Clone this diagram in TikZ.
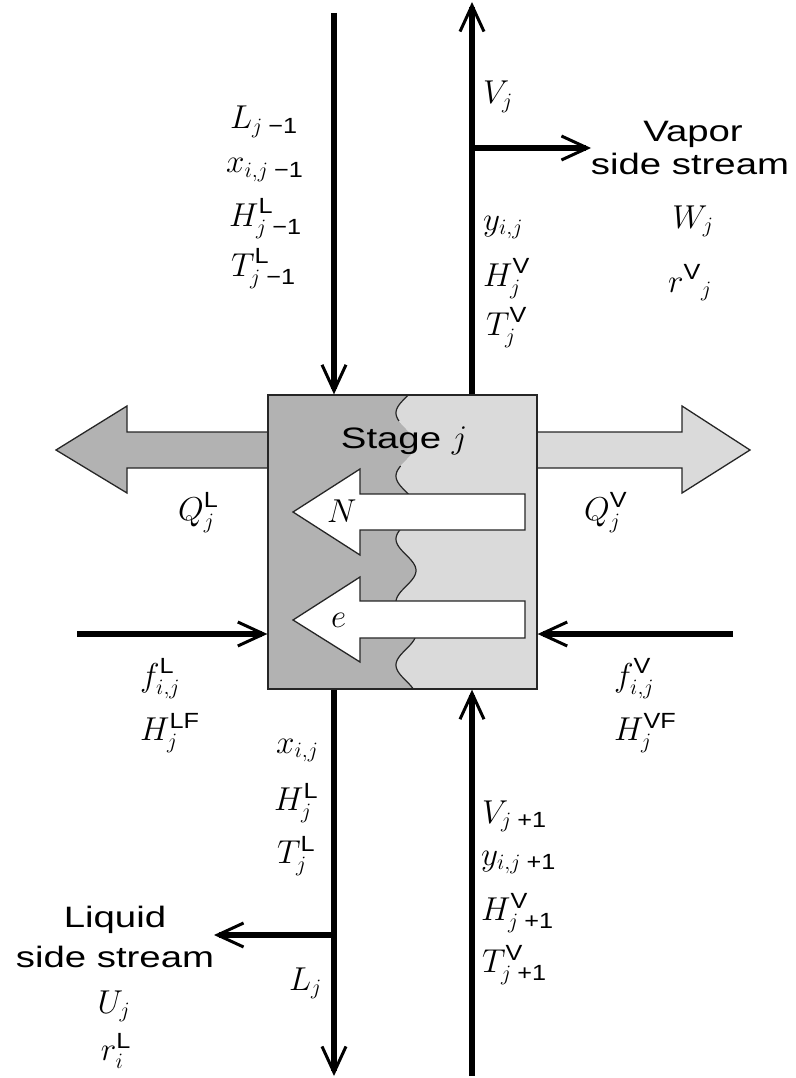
\documentclass[tikz,border=0pt]{standalone}
\usepackage{fix-cm}
\usepackage{amsmath}
\usepackage{graphicx}
\usepackage{fontspec}
\newfontfamily\wsans{Liberation Sans}[FakeStretch=1.3]
\newfontfamily\msans{Liberation Sans}[FakeStretch=1.15]
\usetikzlibrary{arrows.meta}
\DeclareMathSizes{24.88}{24.88}{16.5}{12}
\newcommand{\sfw}[1]{\text{\msans #1}}
\newcommand{\mn}{\mskip5mu\sfw{\textminus1}}
\newcommand{\pl}{\mskip5mu\sfw{+1}}
\newcommand{\M}[1]{\scalebox{1.33}{$#1$}}
\definecolor{dk}{gray}{0.70}
\definecolor{lt}{gray}{0.855}
\begin{document}
\begin{tikzpicture}[x=1pt,y=-1pt,
  stream/.style={line width=5.5pt,-{Straight Barb[length=26pt,width=24pt,line width=3pt]}},
  bigarrow/.style={draw=black!85,line width=1.3pt},
  lab/.style={inner sep=0pt,anchor=base west,font=\fontsize{24.88}{30}\selectfont},
  txt/.style={inner sep=0pt,anchor=base,font=\fontsize{29.5}{34}\selectfont\wsans}]
\useasboundingbox (0,0) rectangle (795,1078);
% stage fills
\fill[dk] (268,395) -- plot[domain=395:689,samples=150] ({406-10*cos((\x-413)*5.714)},\x) -- (268,689) -- cycle;
\fill[lt] (537,395) -- plot[domain=395:689,samples=150] ({406-10*cos((\x-413)*5.714)},\x) -- (537,689) -- cycle;
\draw[line width=1.2pt,black!85] plot[domain=395:421,samples=30] ({406-10*cos((\x-413)*5.714)},\x);
\draw[line width=1.2pt,black!85] plot[domain=466:689,samples=150] ({406-10*cos((\x-413)*5.714)},\x);
% heat arrows
\draw[bigarrow,fill=dk] (268,432) -- (127,432) -- (127,406) -- (56,450) -- (127,493) -- (127,468) -- (268,468);
\draw[bigarrow,fill=lt] (537,432) -- (682,432) -- (682,406) -- (750,450) -- (682,493) -- (682,468) -- (537,468);
% stage box
\node[draw=black!85,line width=1.3pt,minimum width=269pt,minimum height=294pt,inner sep=0pt] (stage) at (402.5,542) {};
% inner arrows
\draw[bigarrow,fill=white] (525,494) -- (360,494) -- (360,469) -- (293,512) -- (360,555) -- (360,530) -- (525,530) -- cycle;
\draw[bigarrow,fill=white] (525,601) -- (360,601) -- (360,577) -- (293,620) -- (360,662) -- (360,638) -- (525,638) -- cycle;
\node[txt] (stg) at (404,448) {Stage \fontsize{24.88}{30}\selectfont\M{j}};
\node[lab] (N) at (327,522) {\M{N}};
\node[lab] (e) at (331,627) {\M{e}};
% streams
\coordinate (Ltop) at (334,13);
\coordinate (Vtop) at (472,2);
\coordinate (Vside) at (472,148);
\coordinate (Wend) at (591,148);
\coordinate (Lbot) at (334,1076);
\coordinate (Lside) at (334,935);
\coordinate (Uend) at (214,935);
\coordinate (Vbot) at (472,1076);
\coordinate (FL) at (77,634);
\coordinate (FV) at (733,634);
\draw[stream] (Ltop) -- (Ltop |- stage.north);
\draw[stream] (Vtop |- stage.north) -- (Vtop);
\draw[stream] (Vside) -- (Wend);
\draw[stream] (Ltop |- stage.south) -- (Lbot);
\draw[stream] (Lside) -- (Uend);
\draw[stream] (Vbot) -- (Vbot |- stage.south);
\draw[stream] (FL) -- (FL -| stage.west);
\draw[stream] (FV) -- (FV -| stage.east);
% labels top left
\node[lab] (l1) at (230,129) {\M{L_{j\mn}}};
\node[lab] (l2) at (226,173) {\M{x_{i,j\mn}}};
\node[lab] (l3) at (229,226) {\M{H^{\sfw{L}}_{j\mn}}};
\node[lab] (l4) at (231,276) {\M{T^{\sfw{L}}_{j\mn}}};
% labels top right
\node[lab] (v1) at (483,104) {\M{V_j}};
\node[lab] (v2) at (483,230) {\M{y_{i,j}}};
\node[lab] (v3) at (483,286) {\M{H^{\sfw{V}}_j}};
\node[lab] (v4) at (486,335) {\M{T^{\sfw{V}}_j}};
\node[txt] (vap1) at (693,142) {Vapor};
\node[txt] (vap2) at (690,175) {side stream};
\node[lab,anchor=base] (W) at (693,228) {\M{W_j}};
\node[lab,anchor=base] (rV) at (690,292) {\M{r^{\sfw{V}}{}_j}};
% heat labels
\node[lab] (QL) at (178,520) {\M{Q^{\sfw{L}}_j}};
\node[lab] (QV) at (584,520) {\M{Q^{\sfw{V}}_j}};
% feeds
\node[lab] (fL) at (140,686) {\M{f^{\sfw{L}}_{i,j}}};
\node[lab] (HLF) at (140,740) {\M{H^{\sfw{LF}}_j}};
\node[lab] (fV) at (614,686) {\M{f^{\sfw{V}}_{i,j}}};
\node[lab] (HVF) at (614,740) {\M{H^{\sfw{VF}}_j}};
% bottom left
\node[lab] (b1) at (276,753) {\M{x_{i,j}}};
\node[lab] (b2) at (274,810) {\M{H^{\sfw{L}}_j}};
\node[lab] (b3) at (277,863) {\M{T^{\sfw{L}}_j}};
\node[lab] (Lj) at (289,990) {\M{L_j}};
\node[txt] (liq1) at (115,927) {Liquid};
\node[txt] (liq2) at (115,967) {side stream};
\node[lab,anchor=base] (U) at (114,1013) {\M{U_j}};
\node[lab,anchor=base] (rL) at (116,1060) {\M{r^{\sfw{L}}_i}};
% bottom right
\node[lab] (r1) at (482,823) {\M{V_{j\pl}}};
\node[lab] (r2) at (481,865) {\M{y_{i,j\pl}}};
\node[lab] (r3) at (481,920) {\M{H^{\sfw{V}}_{j\pl}}};
\node[lab] (r4) at (482,972) {\M{T^{\sfw{V}}_{j\pl}}};
\end{tikzpicture}
\end{document}
